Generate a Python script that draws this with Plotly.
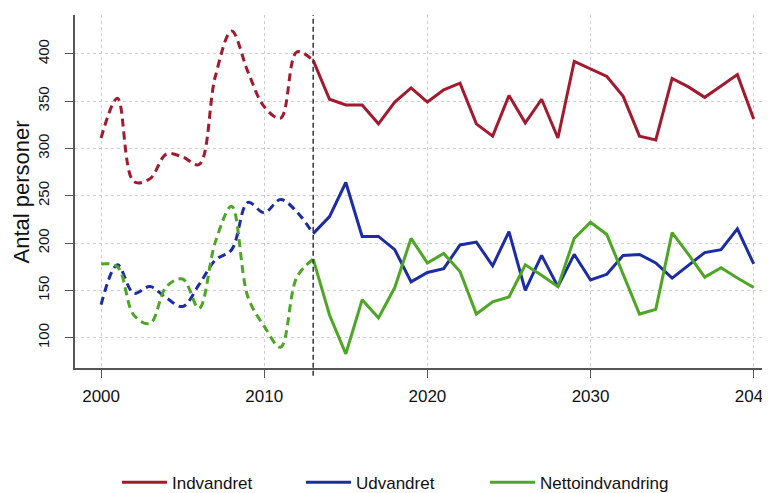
import plotly.graph_objects as go

hist_years = list(range(2000, 2014))
proj_years = list(range(2013, 2041))

indv_hist = [311, 353, 265, 268, 294, 291, 283, 376, 424, 381, 344, 332, 402, 393]
udv_hist = [135, 177, 147, 154, 142, 133, 156, 182, 193, 243, 232, 246, 233, 210]
netto_hist = [178, 175, 124, 115, 154, 162, 131, 201, 239, 143, 112, 90, 164, 183]

indv_proj = [393, 352, 346, 346, 326, 349, 364, 349, 362, 369, 326, 313, 356, 327,
             352, 311, 392, 384, 376, 355, 313, 309, 374, 365, 354, 366, 378, 331]
udv_proj = [210, 228, 264, 207, 207, 193, 159, 169, 173, 198, 201, 176, 212, 150,
            187, 154, 188, 161, 167, 187, 188, 179, 163, 177, 190, 193, 215, 178]
netto_proj = [183, 124, 83, 140, 121, 153, 205, 179, 189, 170, 125, 138, 143, 177,
              166, 154, 205, 222, 209, 166, 125, 130, 211, 188, 164, 174, 163, 153]

names = ["Indvandret", "Udvandret", "Nettoindvandring"]
colors = ["#a3192d", "#1c2ca6", "#4da624"]
x_ticks = [2000, 2010, 2020, 2030, 2040]
y_ticks = [100, 150, 200, 250, 300, 350, 400]
split_year = 2013
y_title = "Antal personer"

fig = go.Figure()
for name, col, h in zip(names, colors, [indv_hist, udv_hist, netto_hist]):
    fig.add_trace(go.Scatter(x=hist_years, y=h, mode="lines", showlegend=False,
                             line=dict(color=col, width=3, dash="8px,5px",
                                       shape="spline", smoothing=1.0),
                             hoverinfo="skip"))
for name, col, p in zip(names, colors, [indv_proj, udv_proj, netto_proj]):
    fig.add_trace(go.Scatter(x=proj_years, y=p, mode="lines", name=name,
                             line=dict(color=col, width=3)))

fig.add_shape(type="line", xref="x", yref="paper", x0=split_year, x1=split_year,
              y0=-0.022, y1=1, line=dict(color="#333333", width=1.5, dash="5px,3px"))

axis_common = dict(showline=True, linecolor="#555555", linewidth=1.5,
                   ticks="outside", ticklen=8, tickcolor="#555555", tickwidth=1.2,
                   showgrid=True, gridcolor="#cfcfcf", griddash="dot", gridwidth=1,
                   zeroline=False, automargin=False, ticklabeloverflow="allow")

fig.update_xaxes(range=[1998.4, 2041.0], tickvals=x_ticks, ticklabelstandoff=4,
                 tickfont=dict(size=17, color="#111111"), **axis_common)
fig.update_yaxes(range=[68, 441], tickvals=y_ticks, tickangle=-90, ticklabelstandoff=10,
                 tickfont=dict(size=15, color="#111111"), **axis_common)

fig.add_annotation(text=y_title, xref="paper", yref="paper", x=-0.0763, y=0.5,
                   xanchor="center", yanchor="middle", textangle=-90, showarrow=False,
                   font=dict(size=22, color="#111111"))

fig.update_layout(
    width=762, height=485,
    margin=dict(l=67, r=0, t=7, b=125),
    plot_bgcolor="white", paper_bgcolor="white",
    font=dict(family="Liberation Sans, Arial, sans-serif", color="#111111"),
    legend=dict(orientation="h", xref="container", yref="container",
                x=0.143, xanchor="left", y=0.021, yanchor="middle",
                itemwidth=45,
                font=dict(size=17, color="#111111"), entrywidth=124, entrywidthmode="pixels",
                bgcolor="rgba(0,0,0,0)"),
)

fig.write_html("out.html")
